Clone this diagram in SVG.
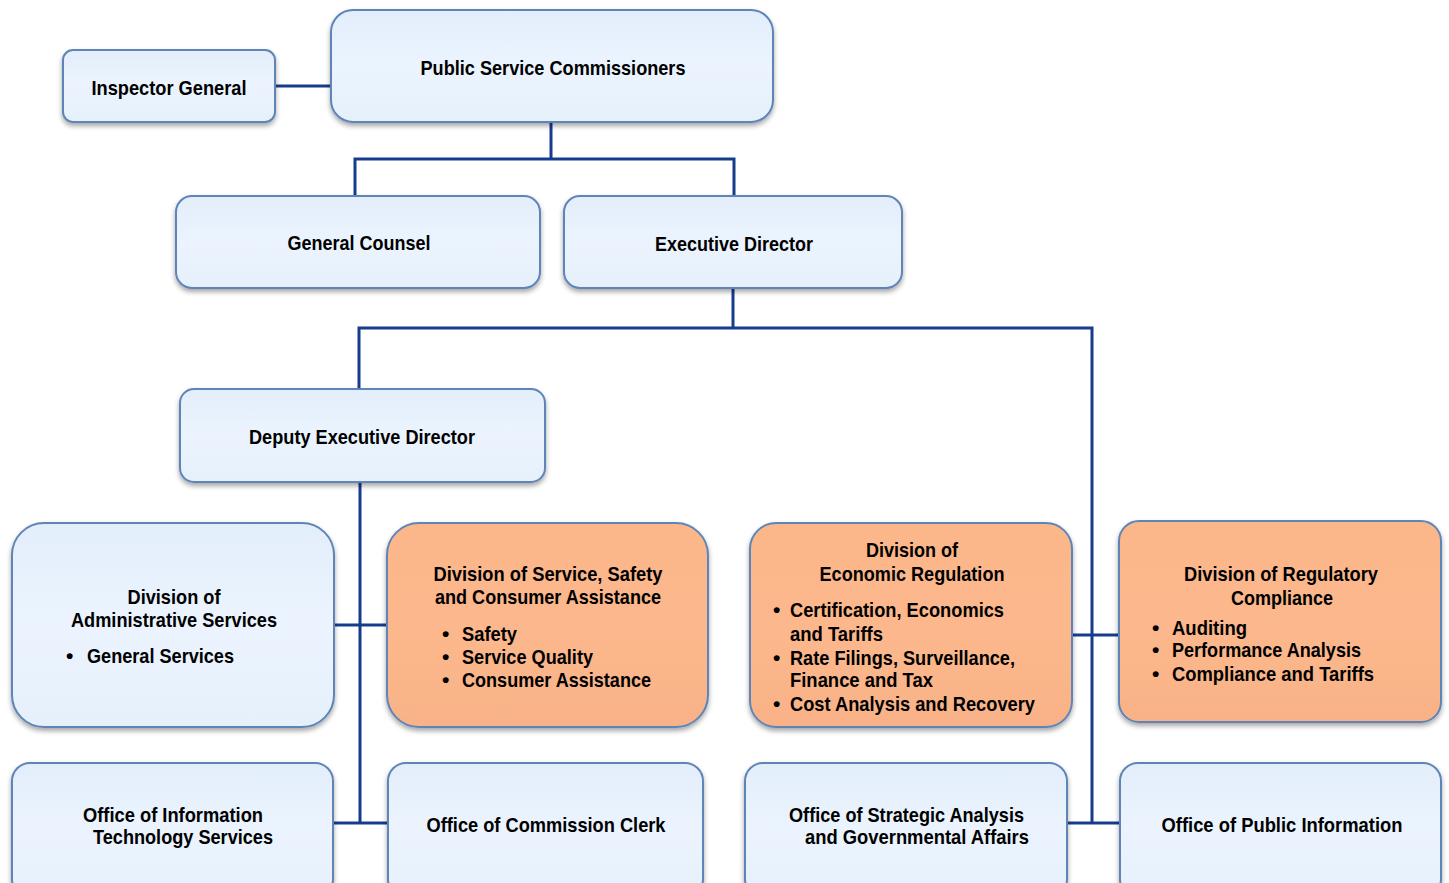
<svg xmlns="http://www.w3.org/2000/svg" width="1449" height="883" viewBox="0 0 1449 883">
  <defs>
    <linearGradient id="gBlue" x1="0" y1="0" x2="0" y2="1">
      <stop offset="0" stop-color="#e3eefb"/>
      <stop offset="0.5" stop-color="#ebf4fe"/>
      <stop offset="1" stop-color="#e6f0fb"/>
    </linearGradient>
    <linearGradient id="gOrange" x1="0" y1="0" x2="0" y2="1">
      <stop offset="0" stop-color="#fbb68a"/>
      <stop offset="0.5" stop-color="#fcb88c"/>
      <stop offset="1" stop-color="#f9b287"/>
    </linearGradient>
    <filter id="shadow" x="-10%" y="-10%" width="120%" height="130%">
      <feDropShadow dx="0" dy="3" stdDeviation="2.5" flood-color="#000" flood-opacity="0.35"/>
    </filter>
  </defs>
  <style>
    .blue { fill: url(#gBlue); stroke: #5f85b8; stroke-width: 2; filter: url(#shadow); }
    .orange { fill: url(#gOrange); stroke: #5f85b8; stroke-width: 2; filter: url(#shadow); }
    text { font-family: "Liberation Sans Narrow", "Arial Narrow", "Liberation Sans", sans-serif; font-weight: bold; font-size: 21px; fill: #000; }
    .c { text-anchor: middle; }
    .conn { fill: none; stroke: #163c8c; stroke-width: 3; }
  </style>

  <!-- connectors -->
  <g id="connectors">
    <path class="conn" d="M275 86 H331"/>
    <path class="conn" d="M551 122 V159 M355 196 V159 H734 V196"/>
    <path class="conn" d="M733 288 V328 M359 389 V328 H1092 V823"/>
    <path class="conn" d="M360 482 V823"/>
    <path class="conn" d="M334 625 H387"/>
    <path class="conn" d="M333 823 H388"/>
    <path class="conn" d="M1072 635 H1119"/>
    <path class="conn" d="M1067 823 H1120"/>
  </g>

  <g id="inspector-general">
    <rect class="blue" x="63" y="50" width="212" height="72" rx="10"/>
    <text class="c" x="169" y="95" textLength="155" lengthAdjust="spacingAndGlyphs">Inspector General</text>
  </g>

  <g id="commissioners">
    <rect class="blue" x="331" y="10" width="442" height="112" rx="22"/>
    <text class="c" x="553" y="75" textLength="265" lengthAdjust="spacingAndGlyphs">Public Service Commissioners</text>
  </g>

  <g id="general-counsel">
    <rect class="blue" x="176" y="196" width="364" height="92" rx="16"/>
    <text class="c" x="359" y="250" textLength="143" lengthAdjust="spacingAndGlyphs">General Counsel</text>
  </g>

  <g id="executive-director">
    <rect class="blue" x="564" y="196" width="338" height="92" rx="16"/>
    <text class="c" x="734" y="251" textLength="158" lengthAdjust="spacingAndGlyphs">Executive Director</text>
  </g>

  <g id="deputy-executive-director">
    <rect class="blue" x="180" y="389" width="365" height="93" rx="14"/>
    <text class="c" x="362" y="444" textLength="226" lengthAdjust="spacingAndGlyphs">Deputy Executive Director</text>
  </g>

  <g id="administrative-services">
    <rect class="blue" x="12" y="523" width="322" height="204" rx="32"/>
    <text class="c" x="174" y="604" textLength="93" lengthAdjust="spacingAndGlyphs">Division of</text>
    <text class="c" x="174" y="627" textLength="206" lengthAdjust="spacingAndGlyphs">Administrative Services</text>
    <text x="66" y="663">•</text>
    <text x="87" y="663" textLength="147" lengthAdjust="spacingAndGlyphs">General Services</text>
  </g>

  <g id="service-safety">
    <rect class="orange" x="387" y="523" width="321" height="204" rx="32"/>
    <text class="c" x="548" y="581" textLength="229" lengthAdjust="spacingAndGlyphs">Division of Service, Safety</text>
    <text class="c" x="548" y="604" textLength="226" lengthAdjust="spacingAndGlyphs">and Consumer Assistance</text>
    <text x="442" y="641">•</text>
    <text x="462" y="641" textLength="55" lengthAdjust="spacingAndGlyphs">Safety</text>
    <text x="442" y="664">•</text>
    <text x="462" y="664" textLength="131" lengthAdjust="spacingAndGlyphs">Service Quality</text>
    <text x="442" y="687">•</text>
    <text x="462" y="687" textLength="189" lengthAdjust="spacingAndGlyphs">Consumer Assistance</text>
  </g>

  <g id="economic-regulation">
    <rect class="orange" x="750" y="523" width="322" height="204" rx="26"/>
    <text class="c" x="912" y="557" textLength="92" lengthAdjust="spacingAndGlyphs">Division of</text>
    <text class="c" x="912" y="581" textLength="185" lengthAdjust="spacingAndGlyphs">Economic Regulation</text>
    <text x="773" y="617">•</text>
    <text x="790" y="617" textLength="214" lengthAdjust="spacingAndGlyphs">Certification, Economics</text>
    <text x="790" y="641" textLength="93" lengthAdjust="spacingAndGlyphs">and Tariffs</text>
    <text x="773" y="665">•</text>
    <text x="790" y="665" textLength="225" lengthAdjust="spacingAndGlyphs">Rate Filings, Surveillance,</text>
    <text x="790" y="687" textLength="143" lengthAdjust="spacingAndGlyphs">Finance and Tax</text>
    <text x="773" y="711">•</text>
    <text x="790" y="711" textLength="245" lengthAdjust="spacingAndGlyphs">Cost Analysis and Recovery</text>
  </g>

  <g id="regulatory-compliance">
    <rect class="orange" x="1119" y="521" width="322" height="201" rx="20"/>
    <text class="c" x="1281" y="581" textLength="194" lengthAdjust="spacingAndGlyphs">Division of Regulatory</text>
    <text class="c" x="1282" y="605" textLength="102" lengthAdjust="spacingAndGlyphs">Compliance</text>
    <text x="1152" y="635">•</text>
    <text x="1172" y="635" textLength="75" lengthAdjust="spacingAndGlyphs">Auditing</text>
    <text x="1152" y="657">•</text>
    <text x="1172" y="657" textLength="189" lengthAdjust="spacingAndGlyphs">Performance Analysis</text>
    <text x="1152" y="681">•</text>
    <text x="1172" y="681" textLength="202" lengthAdjust="spacingAndGlyphs">Compliance and Tariffs</text>
  </g>

  <g id="information-technology">
    <rect class="blue" x="12" y="763" width="321" height="135" rx="18"/>
    <text x="83" y="822" textLength="180" lengthAdjust="spacingAndGlyphs">Office of Information</text>
    <text x="93" y="844" textLength="180" lengthAdjust="spacingAndGlyphs">Technology Services</text>
  </g>

  <g id="commission-clerk">
    <rect class="blue" x="388" y="763" width="315" height="135" rx="18"/>
    <text class="c" x="546" y="832" textLength="239" lengthAdjust="spacingAndGlyphs">Office of Commission Clerk</text>
  </g>

  <g id="strategic-analysis">
    <rect class="blue" x="745" y="763" width="322" height="135" rx="18"/>
    <text x="789" y="822" textLength="235" lengthAdjust="spacingAndGlyphs">Office of Strategic Analysis</text>
    <text x="805" y="844" textLength="224" lengthAdjust="spacingAndGlyphs">and Governmental Affairs</text>
  </g>

  <g id="public-information">
    <rect class="blue" x="1120" y="763" width="321" height="135" rx="18"/>
    <text class="c" x="1282" y="832" textLength="241" lengthAdjust="spacingAndGlyphs">Office of Public Information</text>
  </g>
</svg>
